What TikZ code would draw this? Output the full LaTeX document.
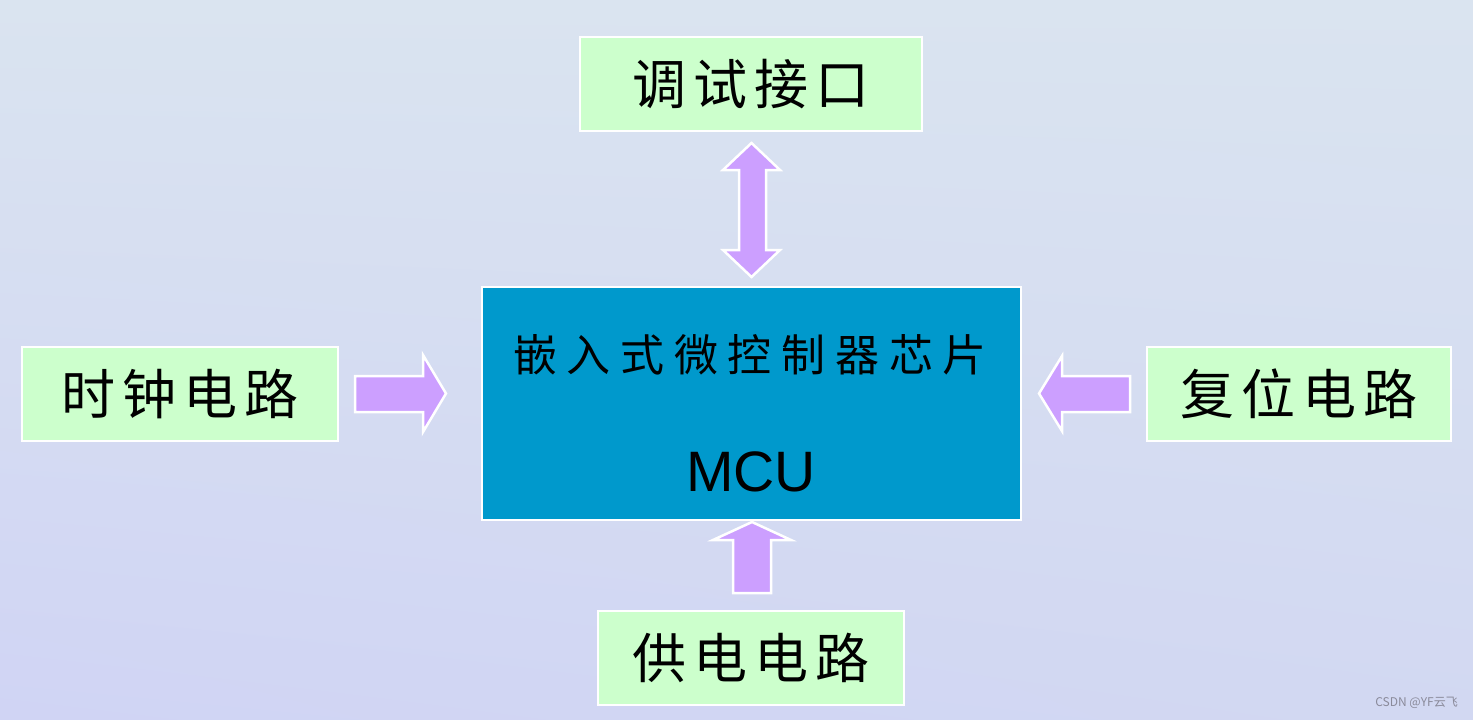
\documentclass[tikz,border=0pt]{standalone}
\usepackage{fontspec}
\usetikzlibrary{shadings}
\setmainfont{Liberation Sans}
\newfontfamily\cjk{Noto Sans CJK SC}
\definecolor{bgA}{HTML}{D2D8F2}
\definecolor{bgB}{HTML}{DAE4F0}
\definecolor{bgC}{HTML}{D0D4F4}
\definecolor{boxgreen}{HTML}{CCFFCC}
\definecolor{mcublue}{HTML}{0099CC}
\definecolor{arrowpurple}{HTML}{CC9FFF}
\definecolor{wmgray}{HTML}{8A8A9A}
\tikzset{
  greenbox/.style={draw=white, line width=2.5pt, fill=boxgreen, inner sep=0pt,
    font=\cjk\addfontfeature{LetterSpace=13}\fontsize{54}{60}\selectfont},
  mcubox/.style={draw=white, line width=2.5pt, fill=mcublue, inner sep=0pt},
  blockarrow/.style={draw=white, line width=2.5pt, fill=arrowpurple, line join=miter},
  titletext/.style={font=\cjk\addfontfeature{LetterSpace=22}\fontsize{44}{50}\selectfont, inner sep=0pt},
  mcutext/.style={font=\fontsize{57}{64}\selectfont, inner sep=0pt},
  watermark/.style={font=\cjk\fontsize{12}{14}\selectfont, text=wmgray, inner sep=0pt, anchor=east}
}
\begin{document}
\begin{tikzpicture}[x=1pt,y=-1pt]
\useasboundingbox (0,0) rectangle (1473,720);
\shade[upper left=bgB, upper right=bgB, lower left=bgC, lower right=bgA] (0,0) rectangle (1473,720);

% boxes
\node[greenbox, minimum width=342pt, minimum height=94pt] (dbg) at (751,84) {调试接口};
\node[greenbox, minimum width=316pt, minimum height=94pt] (clk) at (180,394) {时钟电路};
\node[greenbox, minimum width=304pt, minimum height=94pt] (rst) at (1299,394) {复位电路};
\node[greenbox, minimum width=306pt, minimum height=94pt] (pwr) at (751,658) {供电电路};
\node[mcubox, minimum width=539pt, minimum height=233pt] (mcu) at (751.5,403.5) {};
\node[titletext] (title) at (750,355) {嵌入式微控制器芯片};
\node[mcutext] (mcuname) at (751,472) {MCU};

% block arrows
\draw[blockarrow] (739,250) -- (739,170) -- (723,170) -- (751.5,143) -- (780,170) -- (766,170)
  -- (766,250) -- (780,250) -- (751.5,277) -- (723,250) -- cycle;
\draw[blockarrow] (355,376) -- (423,376) -- (423,355) -- (446,393.5) -- (423,432) -- (423,412) -- (355,412) -- cycle;
\draw[blockarrow] (1130,376) -- (1062,376) -- (1062,356) -- (1039,393.5) -- (1062,431) -- (1062,412) -- (1130,412) -- cycle;
\draw[blockarrow] (733,593) -- (733,540) -- (713,540) -- (752,522) -- (791,540) -- (771,540) -- (771,593) -- cycle;

\node[watermark] (wm) at (1458,703) {CSDN @YF云飞};
\end{tikzpicture}
\end{document}
